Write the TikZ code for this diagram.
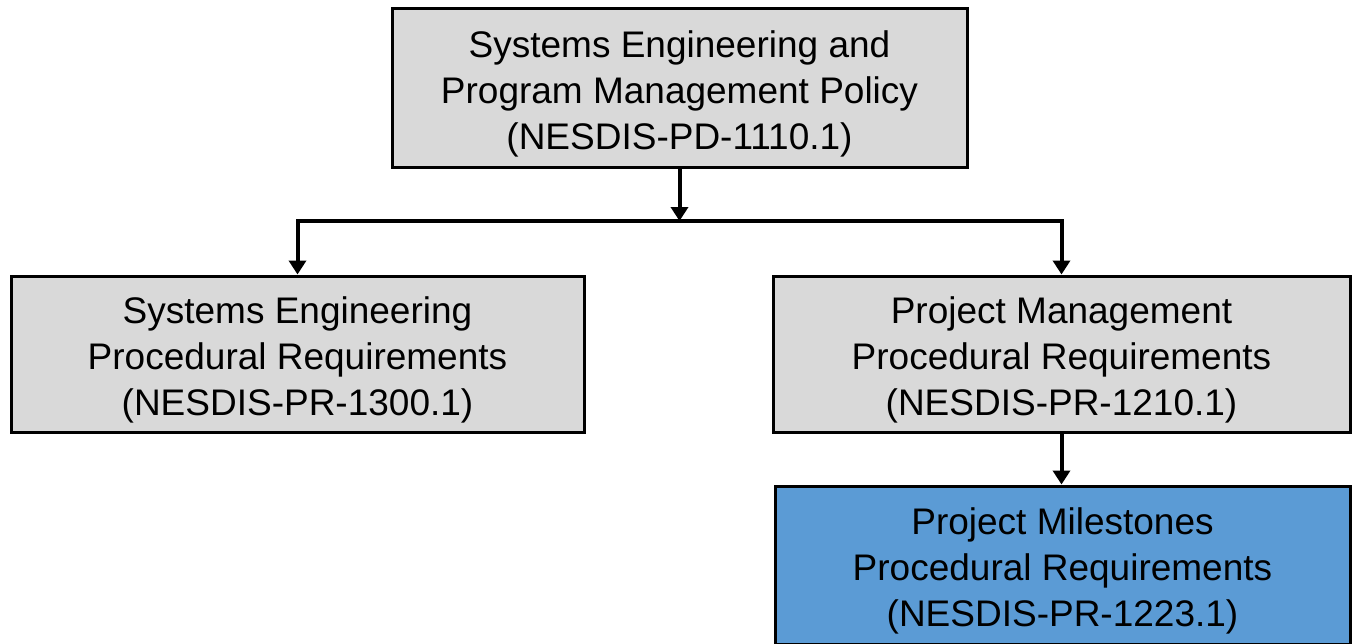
\documentclass[tikz,border=0pt]{standalone}
\usepackage{fontspec}
\setmainfont{Liberation Sans}
\usetikzlibrary{arrows.meta, positioning}
\definecolor{cDocFill}{RGB}{217, 217, 217}
\definecolor{cMileFill}{RGB}{91, 155, 213}
\tikzset{
    docBox/.style={
        rectangle, draw=black, line width=1.5pt,
        fill=cDocFill,
        align=center,
        inner sep=0pt,
        font=\fontsize{18.5pt}{23pt}\selectfont
    },
    mileBox/.style={
        docBox, fill=cMileFill
    },
    link/.style={
        draw=black, line width=2pt,
        -{Triangle[width=8.5pt,length=7pt]}
    }
}
\newcommand{\topStrut}{\rule{0pt}{19.5pt}}
\begin{document}
\begin{tikzpicture}[x=0.5pt, y=-0.5pt]
    \useasboundingbox (0,0) rectangle (1354,643);

    \node [docBox, minimum width=287.5pt, minimum height=79.5pt] (policy) at (679.5,87.5)
        {\topStrut Systems Engineering and\\Program Management Policy\\(NESDIS-PD-1110.1)};

    \node [docBox, minimum width=286.5pt, minimum height=78pt] (sepr) at (297.5,354)
        {\topStrut Systems Engineering\\Procedural Requirements\\(NESDIS-PR-1300.1)};

    \node [docBox, minimum width=288.5pt, minimum height=78pt] (pmpr) at (1061.5,354)
        {\topStrut Project Management\\Procedural Requirements\\(NESDIS-PR-1210.1)};

    \node [mileBox, minimum width=287.5pt, minimum height=79pt] (milepr) at (1062.5,565)
        {\topStrut Project Milestones\\Procedural Requirements\\(NESDIS-PR-1223.1)};

    % branch point under the policy box
    \coordinate (split) at (679.5,221);

    \draw [link] (policy.south) -- (split);
    \draw [link] (split) -| (sepr.north);
    \draw [link] (split) -| (pmpr.north);
    \draw [link] (pmpr.south) -- (pmpr.south |- milepr.north);
\end{tikzpicture}
\end{document}
